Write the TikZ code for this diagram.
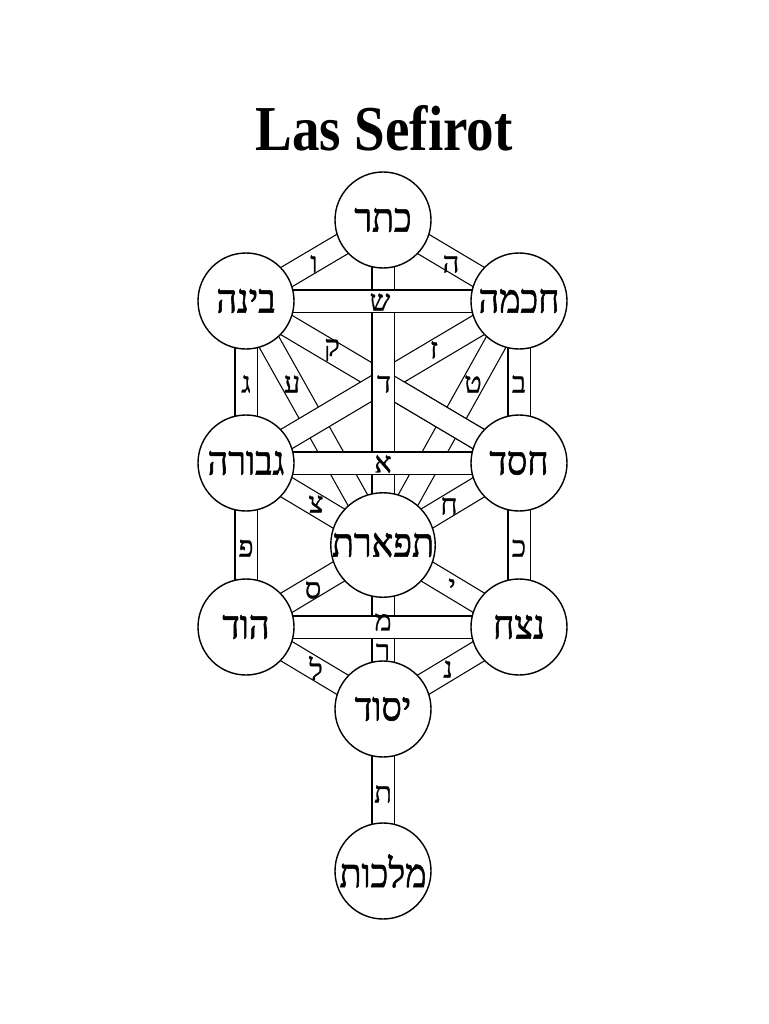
\documentclass[tikz,border=0pt]{standalone}
\usepackage{fontspec}
\TeXXeTstate=1
\newfontfamily\heb[Script=Hebrew,FakeStretch=0.9,FakeBold=1.4]{Liberation Serif}
\newfontfamily\hebl[Script=Hebrew,FakeBold=0.9]{Liberation Serif}
\newfontfamily\titlefont[FakeStretch=0.86]{Liberation Serif}
\usetikzlibrary{calc}
\pgfdeclarelayer{background}
\pgfsetlayers{background,main}
\tikzset{
  sefira/.style={circle, draw, line width=1.4pt, fill=white, minimum size=96pt, inner sep=0pt,
    font=\heb\fontsize{40}{40}\selectfont},
  band/.style={draw=black, line width=1.2pt, double=white, double distance=21pt},
  pathlabel/.style={inner sep=0pt, font=\hebl\fontsize{29}{29}\selectfont},
}
\newcommand{\hb}[1]{\beginR #1\endR}
\begin{document}
\begin{tikzpicture}[x=1pt,y=-1pt]
\useasboundingbox (0,0) rectangle (768,1024);
\node (title) at (384,128) {\titlefont\bfseries\fontsize{64}{64}\selectfont Las Sefirot};
% sefirot
\node[sefira] (K)   at (383,220) {\hb{כתר}};
\node[sefira] (Ch)  at (519,301) {\hb{חכמה}};
\node[sefira] (B)   at (246,301) {\hb{בינה}};
\node[sefira] (Che) at (519,463) {\hb{חסד}};
\node[sefira] (G)   at (246,463) {\hb{גבורה}};
\node[sefira] (T)   at (383,545) {\hb{תפארת}};
\node[sefira] (N)   at (519,627) {\hb{נצח}};
\node[sefira] (H)   at (246,627) {\hb{הוד}};
\node[sefira] (Y)   at (383,709) {\hb{יסוד}};
\node[sefira] (M)   at (383,871) {\hb{מלכות}};
\coordinate (X) at ($(B.center)!0.5!(Che.center)$);
\begin{pgfonlayer}{background}
  \fill[white] (0,0) rectangle (768,1024);
  \draw[band] (B.center) -- (T.center);
  \draw[band] (Ch.center) -- (T.center);
  \draw[band] (B.center) -- (Che.center);
  \draw[band] (Ch.center) -- (G.center);
  \draw[band] (X) -- (Che.center);
  \draw[band] (K.center) -- (T.center);
  \draw[band] (K.center) -- (B.center);
  \draw[band] (K.center) -- (Ch.center);
  \draw[band] (B.center) -- (G.center);
  \draw[band] (Ch.center) -- (Che.center);
  \draw[band] (G.center) -- (T.center);
  \draw[band] (Che.center) -- (T.center);
  \draw[band] (G.center) -- (H.center);
  \draw[band] (Che.center) -- (N.center);
  \draw[band] (H.center) -- (T.center);
  \draw[band] (N.center) -- (T.center);
  \draw[band] (T.center) -- (Y.center);
  \draw[band] (H.center) -- (Y.center);
  \draw[band] (N.center) -- (Y.center);
  \draw[band] (Y.center) -- (M.center);
  \draw[band] (B.center) -- (Ch.center);
  \draw[band] (G.center) -- (Che.center);
  \draw[band] (H.center) -- (N.center);
\end{pgfonlayer}
% path letters
\node[pathlabel] (l1)  at (314,264) {ו};
\node[pathlabel] (l2)  at (451,264) {ה};
\node[pathlabel] (l3)  at (380,302) {ש};
\node[pathlabel] (l4)  at (332,350) {ק};
\node[pathlabel] (l5)  at (434,350) {ז};
\node[pathlabel] (l6)  at (246,384) {ג};
\node[pathlabel] (l7)  at (292,384) {ע};
\node[pathlabel] (l8)  at (384,384) {ד};
\node[pathlabel] (l9)  at (473,384) {ט};
\node[pathlabel] (l10) at (519,384) {ב};
\node[pathlabel] (l11) at (383,464) {א};
\node[pathlabel] (l12) at (316,504) {צ};
\node[pathlabel] (l13) at (449,506) {ח};
\node[pathlabel] (l14) at (246,548) {פ};
\node[pathlabel] (l15) at (519,548) {כ};
\node[pathlabel] (l16) at (313,590) {ס};
\node[pathlabel] (l17) at (452,587) {י};
\node[pathlabel] (l18) at (383,622) {מ};
\node[pathlabel] (l19) at (383,652) {ר};
\node[pathlabel] (l20) at (316,668) {ל};
\node[pathlabel] (l21) at (448,669) {נ};
\node[pathlabel] (l22) at (383,794) {ת};
\end{tikzpicture}
\end{document}
